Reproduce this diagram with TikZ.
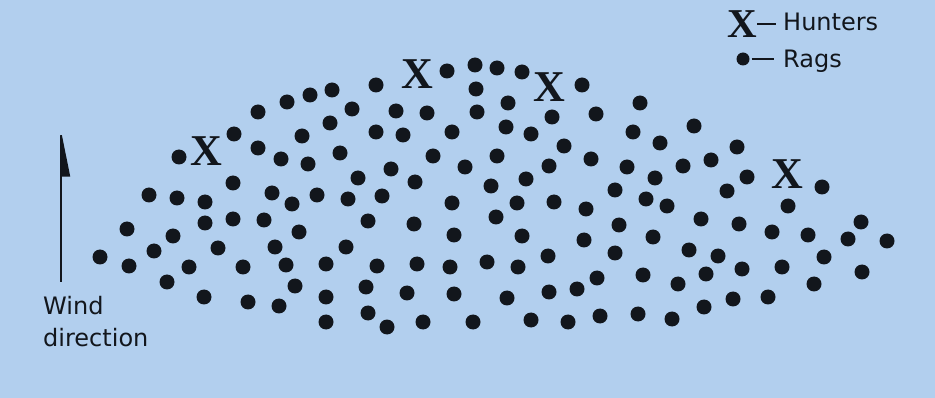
\documentclass[tikz,border=0pt]{standalone}
\usepackage{fontspec}
\usetikzlibrary{arrows.meta}
\newfontfamily\legendfont{DejaVu Sans}
\newfontfamily\markfont{Liberation Serif}
\definecolor{sky}{RGB}{178,207,238}
\definecolor{ink}{RGB}{18,22,28}
\begin{document}
\begin{tikzpicture}[x=1pt, y=-1pt,
		rag/.style={circle, fill=ink, inner sep=0pt, minimum size=15pt},
		hunter/.style={inner sep=0pt, text=ink, font=\fontsize{44}{44}\markfont\bfseries},
		legtext/.style={inner sep=0pt, text=ink, anchor=base west, font=\fontsize{24}{32}\legendfont}]
	\fill[sky] (0,0) rectangle (935,398);
	\useasboundingbox (0,0) rectangle (935,398);
	% rags
	\foreach \x/\y [count=\i] in {258/112, 287/102, 310/95, 332/90, 330/123, 234/134, 302/136, 179/157,
			258/148, 281/159, 308/164, 340/153, 233/183, 149/195, 177/198, 205/202, 272/193, 292/204,
			317/195, 127/229, 173/236, 205/223, 233/219, 264/220, 299/232, 100/257, 129/266, 154/251,
			189/267, 218/248, 243/267, 275/247, 286/265, 326/264, 167/282, 204/297, 248/302, 279/306,
			295/286, 326/297, 326/322,
			376/85, 447/71, 475/65, 497/68, 522/72, 582/85, 352/109, 396/111, 427/113, 476/89, 477/112,
			508/103, 552/117, 596/114, 376/132, 403/135, 452/132, 506/127, 531/134, 564/146, 591/159,
			391/169, 433/156, 465/167, 497/156, 549/166, 358/178, 415/182, 491/186, 526/179, 615/190,
			348/199, 382/196, 452/203, 517/203, 554/202, 586/209, 368/221, 414/224, 496/217, 454/235,
			522/236, 584/240, 619/225, 346/247, 377/266, 417/264, 450/267, 487/262, 518/267, 548/256,
			615/253, 366/287, 407/293, 454/294, 507/298, 549/292, 577/289, 597/278, 368/313, 387/327,
			423/322, 473/322, 531/320, 568/322, 600/316,
			640/103, 633/132, 694/126, 660/143, 737/147, 627/167, 655/178, 683/166, 711/160, 747/177,
			727/191, 822/187, 646/199, 667/206, 788/206, 653/237, 701/219, 739/224, 772/232, 808/235,
			848/239, 861/222, 887/241, 689/250, 718/256, 742/269, 782/267, 824/257, 862/272, 643/275,
			678/284, 706/274, 814/284, 768/297, 733/299, 704/307, 638/314, 672/319}
		\node[rag] (r\i) at (\x,\y) {};
	% hunters
	\node[hunter] (h1) at (206,151) {X};
	\node[hunter] (h2) at (417,74) {X};
	\node[hunter] (h3) at (549,87) {X};
	\node[hunter] (h4) at (787,174) {X};
	% legend
	\node[hunter, font=\fontsize{41}{41}\markfont\bfseries] (legX) at (742,24) {X};
	\node[legtext] (hunt) at (783,31) {Hunters};
	\node[rag, minimum size=13pt] (legdot) at (743,59) {};
	\node[legtext] (rags) at (783,68) {Rags};
	\draw[ink, line width=1.3pt, shorten >=7pt] (legX.east) -- (legX.east -| hunt.west);
	\draw[ink, line width=1.3pt, shorten <=2pt, shorten >=9pt] (legdot.east) -- (legdot.east -| rags.west);
	% wind
	\node[legtext, anchor=north west, align=left] (wind) at (43,296) {Wind\\direction};
	\coordinate (windtip) at (61,126);
	\coordinate (windtail) at (61,282);
	\draw[ink, line width=1.8pt, -{Triangle[right, length=46pt, width=18pt]}] (windtail) -- (windtip);
\end{tikzpicture}
\end{document}
